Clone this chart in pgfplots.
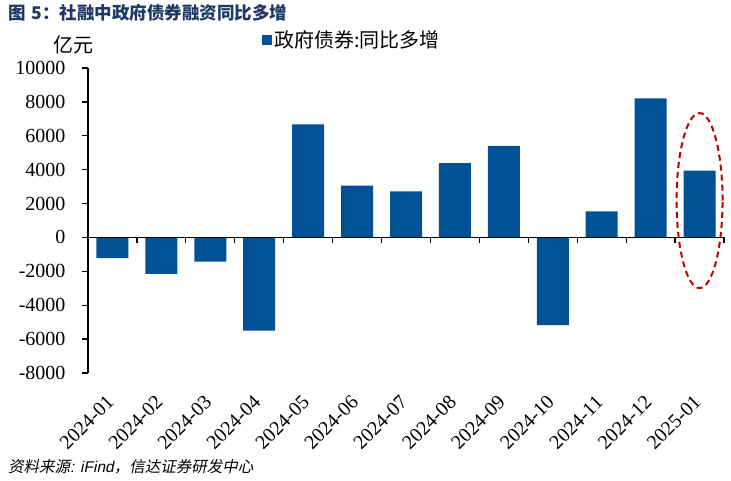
\documentclass[border=0pt]{standalone}
\usepackage{fontspec}
\setmainfont{Liberation Serif}
\newfontfamily\tnr{Liberation Serif}
\newfontfamily\cjk{Noto Sans CJK SC}
\newfontfamily\cjkit[FakeSlant=0.2]{Noto Sans CJK SC}
\newfontfamily\arialit[FakeSlant=0.2]{Liberation Sans}
\usepackage{pgfplots}
\pgfplotsset{compat=1.18}
\definecolor{barblue}{RGB}{0,81,150}
\definecolor{titleblue}{RGB}{31,56,100}
\definecolor{ellred}{RGB}{192,0,0}
\begin{document}
\begin{tikzpicture}
\useasboundingbox (-88bp,-108bp) rectangle (643bp,373bp);
\begin{axis}[
  scale only axis, width=636bp, height=305bp,
  xmin=-0.5, xmax=12.5, ymin=-8000, ymax=10000,
  axis x line=bottom, axis y line=left,
  axis line style={-},
  x axis line style={draw=none},
  y axis line style={-, line width=1.3bp, black},
  ytick={-8000,-6000,...,10000},
  scaled y ticks=false,
  /pgf/number format/assume math mode=true,
  /pgf/number format/1000 sep={},
  /pgf/number format/fixed,
  tick align=outside,
  major tick length=6bp,
  ytick style={line width=1.3bp, black},
  xtick={0,...,12},
  xtick style={draw=none},
  xticklabels={2024-01,2024-02,2024-03,2024-04,2024-05,2024-06,2024-07,2024-08,2024-09,2024-10,2024-11,2024-12,2025-01},
  xticklabel style={font=\tnr\fontsize{20bp}{24bp}\selectfont, xshift=-7bp, yshift=-15bp, rotate=45, anchor=north east, inner sep=0pt},
  yticklabel style={font=\tnr\fontsize{20bp}{24bp}\selectfont, xshift=-13bp},
  legend style={draw=none, fill=none, at={(0.2736,1.0918)}, anchor=west, inner sep=0pt,
    font=\cjk\fontsize{20bp}{24bp}\selectfont},
  legend image code/.code={\fill[barblue] (0bp,-5bp) rectangle (10bp,5bp);},
  clip=false,
]
\addplot[ybar, bar width=32bp, fill=barblue, draw=none] coordinates {
 (0,-1220) (1,-2150) (2,-1420) (3,-5500) (4,6670) (5,3060) (6,2720)
 (7,4380) (8,5400) (9,-5170) (10,1540) (11,8210) (12,3950)
};
\addlegendentry{政府债券:同比多增}
\draw[line width=1.5bp, black] (axis cs:-0.5,0) -- (axis cs:12.5,0);
\pgfplotsinvokeforeach{0.5,1.5,...,12.5}{
  \draw[line width=1.3bp, black] (axis cs:#1,0) -- ([yshift=-6bp]axis cs:#1,0);
}
\draw[ellred, line width=2bp, dash pattern=on 6bp off 4bp] (axis cs:12,2175) ellipse [x radius=23bp, y radius=87.5bp];
\end{axis}
\node[anchor=west, inner sep=0pt, text=titleblue, font=\cjk\bfseries\fontsize{17.5bp}{20bp}\selectfont] at (-80bp,360bp) {图\hspace{6bp}5：社融中政府债券融资同比多增};
\node[anchor=center, inner sep=0pt, font=\cjk\fontsize{20bp}{24bp}\selectfont] at (-15bp,328bp) {亿元};
\node[anchor=west, inner sep=0pt, font=\fontsize{15.5bp}{19bp}\selectfont] at (-80bp,-94bp) {\cjkit 资料来源\arialit: iFind\cjkit，信达证券研发中心};
\end{tikzpicture}
\end{document}
